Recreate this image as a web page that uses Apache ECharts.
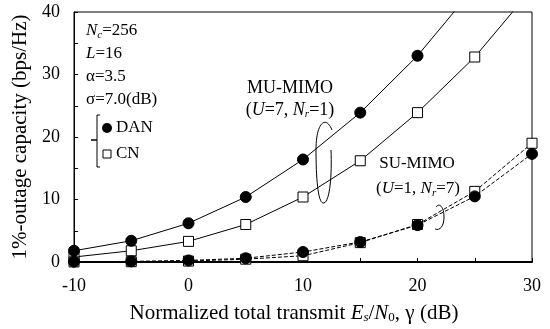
<!DOCTYPE html>
<html>
<head>
<meta charset="utf-8">
<script src="https://cdn.jsdelivr.net/npm/echarts@6/dist/echarts.min.js"></script>
<style>
  html, body { margin: 0; padding: 0; background: #fff; }
  #chart { width: 550px; height: 329px; }
</style>
</head>
<body>
<div id="chart"></div>
<script>
// eixo x: Es/N0 (dB)
const snr = [-10, -5, 0, 5, 10, 15, 20, 25, 30];

// MU-MIMO (U=7, Nr=1) -- ultimos valores passam do topo e sao cortados
const muDan = [1.8, 3.4, 6.2, 10.4, 16.4, 23.9, 33.0, 44.0, null];
const muCn = [0.8, 1.8, 3.3, 6.0, 10.4, 16.2, 23.9, 32.8, 43.7];

// SU-MIMO (U=1, Nr=7)
const suDan = [0.05, 0.1, 0.25, 0.6, 1.6, 3.2, 5.9, 10.5, 17.3];
const suCn = [0.02, 0.05, 0.15, 0.45, 1.0, 3.1, 6.0, 11.3, 19.0];

const yTicks = [0, 10, 20, 30, 40];
const xTicks = [-10, 0, 10, 20, 30];

const fonte = 'Liberation Serif';

const chart = echarts.init(document.getElementById('chart'));

function pares(valores) {
    return snr.map((x, i) => {
        const v = valores[i];
        if (v === null) return null;
        // pontos acima do eixo ficam sem marcador
        if (v > 40) return { value: [x, v], symbol: 'none' };
        return [x, v];
    }).filter(Boolean);
}

function serie(nome, valores, marcador, tracejado) {
    const aberto = marcador === 'rect';
    return {
        name: nome,
        type: 'line',
        data: pares(valores),
        symbol: marcador,
        symbolSize: aberto ? 10 : 11,
        showAllSymbol: true,
        clip: true,
        lineStyle: { color: '#000', width: 1, type: tracejado ? [4, 2] : 'solid' },
        itemStyle: {
            color: aberto ? '#fff' : '#000',
            borderColor: '#000',
            borderWidth: 1
        },
        z: aberto ? 2 : 3
    };
}

function estilos(tam) {
    const sub = Math.round(tam * 0.62);
    const desce = Math.round(tam * 0.45);
    return {
        i: { fontFamily: fonte, fontSize: tam, fontStyle: 'italic', color: '#000' },
        s: { fontFamily: fonte, fontSize: sub, fontStyle: 'italic', color: '#000', padding: [desce, 0, 0, 0] },
        n: { fontFamily: fonte, fontSize: sub, color: '#000', padding: [desce, 0, 0, 0] },
        t: { fontFamily: fonte, fontSize: tam, color: '#000' }
    };
}

function texto(x, y, str, tam, alinhar) {
    return {
        type: 'text',
        x: x, y: y,
        style: {
            text: str, rich: estilos(tam),
            fontFamily: fonte, fontSize: tam, fill: '#000',
            align: alinhar || 'left', verticalAlign: 'middle'
        },
        z: 10
    };
}

function curva(p) {
    return {
        type: 'bezierCurve',
        shape: { x1: p[0], y1: p[1], cpx1: p[2], cpy1: p[3], cpx2: p[4], cpy2: p[5], x2: p[6], y2: p[7] },
        style: { stroke: '#000', fill: null, lineWidth: 1 },
        z: 10
    };
}

const option = {
    animation: false,
    backgroundColor: '#fff',
    grid: {
        left: 74, right: 18, top: 12, bottom: 66,
        show: true, borderColor: '#000', borderWidth: 1
    },
    xAxis: {
        type: 'value',
        min: -10, max: 30, interval: 5,
        name: '{t|Normalized total transmit }{i|E}{s|s}{t|/}{i|N}{n|0}{t|, γ (dB)}',
        nameLocation: 'middle',
        nameGap: 40,
        nameTextStyle: { fontFamily: fonte, fontSize: 21, color: '#000', padding: [0, 18, 0, 0], rich: estilos(21) },
        axisLine: { lineStyle: { color: '#000', width: 2 } },
        axisTick: { inside: true, length: 4, lineStyle: { color: '#000' } },
        splitLine: { show: false },
        axisLabel: {
            color: '#000', fontFamily: fonte, fontSize: 18, margin: 15,
            formatter: v => xTicks.includes(v) ? String(v) : ''
        }
    },
    yAxis: {
        type: 'value',
        min: 0, max: 40, interval: 5,
        name: '1%-outage capacity (bps/Hz)',
        nameLocation: 'middle',
        nameGap: 42,
        nameTextStyle: { fontFamily: fonte, fontSize: 21, color: '#000' },
        axisLine: { show: true, onZero: false, lineStyle: { color: '#000', width: 1 } },
        axisTick: { inside: true, length: 4, lineStyle: { color: '#000' } },
        splitLine: { show: false },
        axisLabel: {
            color: '#000', fontFamily: fonte, fontSize: 18, margin: 14,
            formatter: v => yTicks.includes(v) ? String(v) : ''
        }
    },
    series: [
        serie('MU CN', muCn, 'rect', false),
        serie('MU DAN', muDan, 'circle', false),
        serie('SU CN', suCn, 'rect', true),
        serie('SU DAN', suDan, 'circle', true)
    ],
    graphic: [
        texto(86, 31, '{i|N}{s|c}{t|=256}', 17),
        texto(86, 54, '{i|L}{t|=16}', 17),
        texto(86, 77, 'α=3.5', 17),
        texto(86, 100, 'σ=7.0(dB)', 17),
        texto(116, 128, 'DAN', 17),
        texto(116, 154, 'CN', 17),
        { type: 'circle', shape: { cx: 107, cy: 128, r: 5 }, style: { fill: '#000' }, z: 10 },
        { type: 'rect', shape: { x: 103, y: 150, width: 8, height: 8 }, style: { fill: '#fff', stroke: '#000', lineWidth: 1 }, z: 10 },
        {
            type: 'polyline',
            shape: { points: [[100, 115], [97, 115], [97, 167], [100, 167]] },
            style: { stroke: '#000', fill: null, lineWidth: 1 }, z: 10
        },
        { type: 'line', shape: { x1: 91, y1: 140, x2: 97, y2: 140 }, style: { stroke: '#000', lineWidth: 1.5 }, z: 10 },

        texto(290, 88, 'MU-MIMO', 18, 'center'),
        texto(290, 110, '({i|U}{t|=7, }{i|N}{s|r}{t|=1})', 18, 'center'),
        curva([332, 130, 326, 115, 316, 122, 316, 150]),
        curva([316, 150, 316, 178, 318, 205, 324, 203]),
        curva([324, 203, 330, 201, 332, 175, 331, 150]),

        texto(417, 164, 'SU-MIMO', 17, 'center'),
        texto(418, 189, '({i|U}{t|=1, }{i|N}{s|r}{t|=7})', 17, 'center'),
        curva([436, 207, 440, 202, 444, 208, 444, 217]),
        curva([444, 217, 444, 226, 440, 231, 435, 229])
    ]
};

chart.setOption(option);
</script>
</body>
</html>
